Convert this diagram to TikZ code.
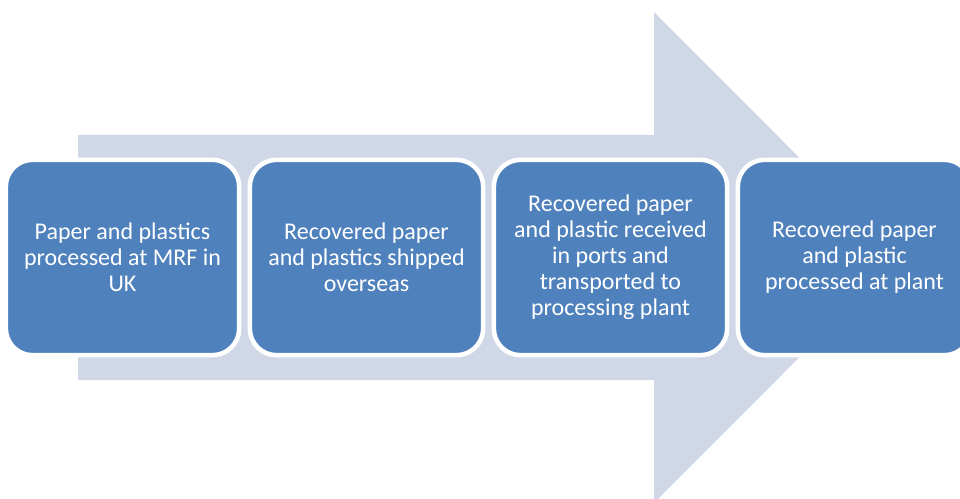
\documentclass[tikz,border=0pt]{standalone}
\usepackage{fontspec}
\setmainfont{Carlito}
\usepackage{xcolor}
\definecolor{StageBlue}{HTML}{4F81BD}
\definecolor{ArrowGrey}{HTML}{D0D8E8}
\usetikzlibrary{positioning}
\newcommand\StageWidth{175pt}
\newcommand\StageHeight{146.5pt}
\newcommand\Mid{257.5}
\tikzstyle{stage}=[rectangle,rounded corners=20pt,draw=white,line width=3.4pt,
                   fill=StageBlue,text=white,align=center,
                   minimum width=\StageWidth,minimum height=\StageHeight,
                   font=\fontsize{18}{19.5}\selectfont]

\begin{document}
\begin{tikzpicture}[x=0.75pt,y=-0.75pt]
      \useasboundingbox (0,0) rectangle (960,499);
      \clip (0,0) rectangle (960,499);
      % big background arrow
      \fill[ArrowGrey] (78,135) -- (654,135) -- (654,12) -- (899,\Mid)
                       -- (654,503) -- (654,380) -- (78,380) -- cycle;
      % stages
      \node[stage] (mrf) at (122.5,\Mid) {Paper and plastics\\processed at MRF in\\UK};
      \node[stage] (shipped) at (366.5,\Mid) {Recovered paper\\and plastics shipped\\overseas};
      \node[stage] (ports) at (610.5,\Mid) {Recovered paper\\and plastic received\\in ports and\\transported to\\processing plant};
      \node[stage] (plant) at (854.5,\Mid) {Recovered paper\\and plastic\\processed at plant};
\end{tikzpicture}
\end{document}
